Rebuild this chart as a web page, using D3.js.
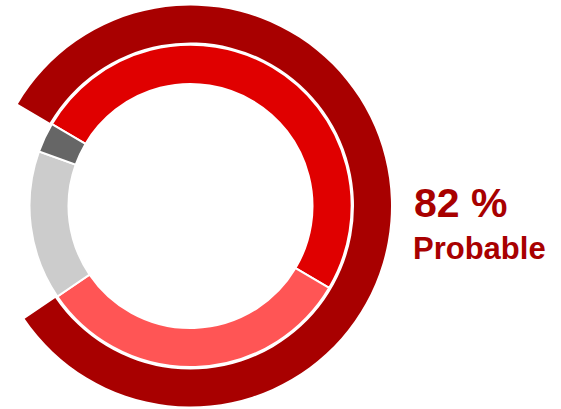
<!DOCTYPE html>
<html>
<head>
<meta charset="utf-8">
<script src="https://cdn.jsdelivr.net/npm/d3@7"></script>
<style>
  html, body { margin: 0; padding: 0; background: #fff; }
  svg { display: block; }
</style>
</head>
<body>
<div id="chart"></div>
<script>
(function () {
    "use strict";

    // ── DATA ─────────────────────────────────────
    const segments = ["Probable A", "Probable B", "Possible", "Unlikely"];
    const segmentValues = [50, 32, 15, 3];
    const gaugeValue = 82;           // percent, outer arc
    const gaugeLabel = "Probable";

    // ── THEME ────────────────────────────────────
    const C = {
        gauge: "#a80000",
        text: "#a80000",
        segments: ["#e00000", "#ff5555", "#cccccc", "#666666"],
    };

    const W = 561, H = 409;
    const cx = 190.5, cy = 206;
    const startAngle = -59.4 * Math.PI / 180;

    const svg = d3.select("#chart").append("svg")
        .attr("width", W).attr("height", H);

    const g = svg.append("g").attr("transform", `translate(${cx},${cy})`);

    // ── Inner ring (pie) ─────────────────────────
    const pie = d3.pie()
        .sort(null)
        .value(d => d)
        .startAngle(startAngle)
        .endAngle(startAngle + 2 * Math.PI);

    const innerArc = d3.arc().innerRadius(122).outerRadius(161);

    g.selectAll("path.seg")
        .data(pie(segmentValues))
        .join("path")
        .attr("class", "seg")
        .attr("d", innerArc)
        .attr("fill", (d, i) => C.segments[i])
        .attr("stroke", "#fff")
        .attr("stroke-width", 2);

    // ── Outer gauge arc ──────────────────────────
    const gaugeScale = d3.scaleLinear()
        .domain([0, 100])
        .range([startAngle, startAngle + 2 * Math.PI]);

    g.append("path")
        .attr("d", d3.arc()({
            innerRadius: 163.5,
            outerRadius: 200.5,
            startAngle: gaugeScale(0),
            endAngle: gaugeScale(gaugeValue),
        }))
        .attr("fill", C.gauge);

    // ── Labels ───────────────────────────────────
    svg.append("text")
        .attr("x", 414).attr("y", 217)
        .attr("fill", C.text)
        .style("font", "bold 41px 'Liberation Sans', Arial, sans-serif")
        .text(`${gaugeValue} %`);

    svg.append("text")
        .attr("x", 413).attr("y", 259)
        .attr("fill", C.text)
        .style("font", "bold 31px 'Liberation Sans', Arial, sans-serif")
        .text(gaugeLabel);
})();
</script>
</body>
</html>
